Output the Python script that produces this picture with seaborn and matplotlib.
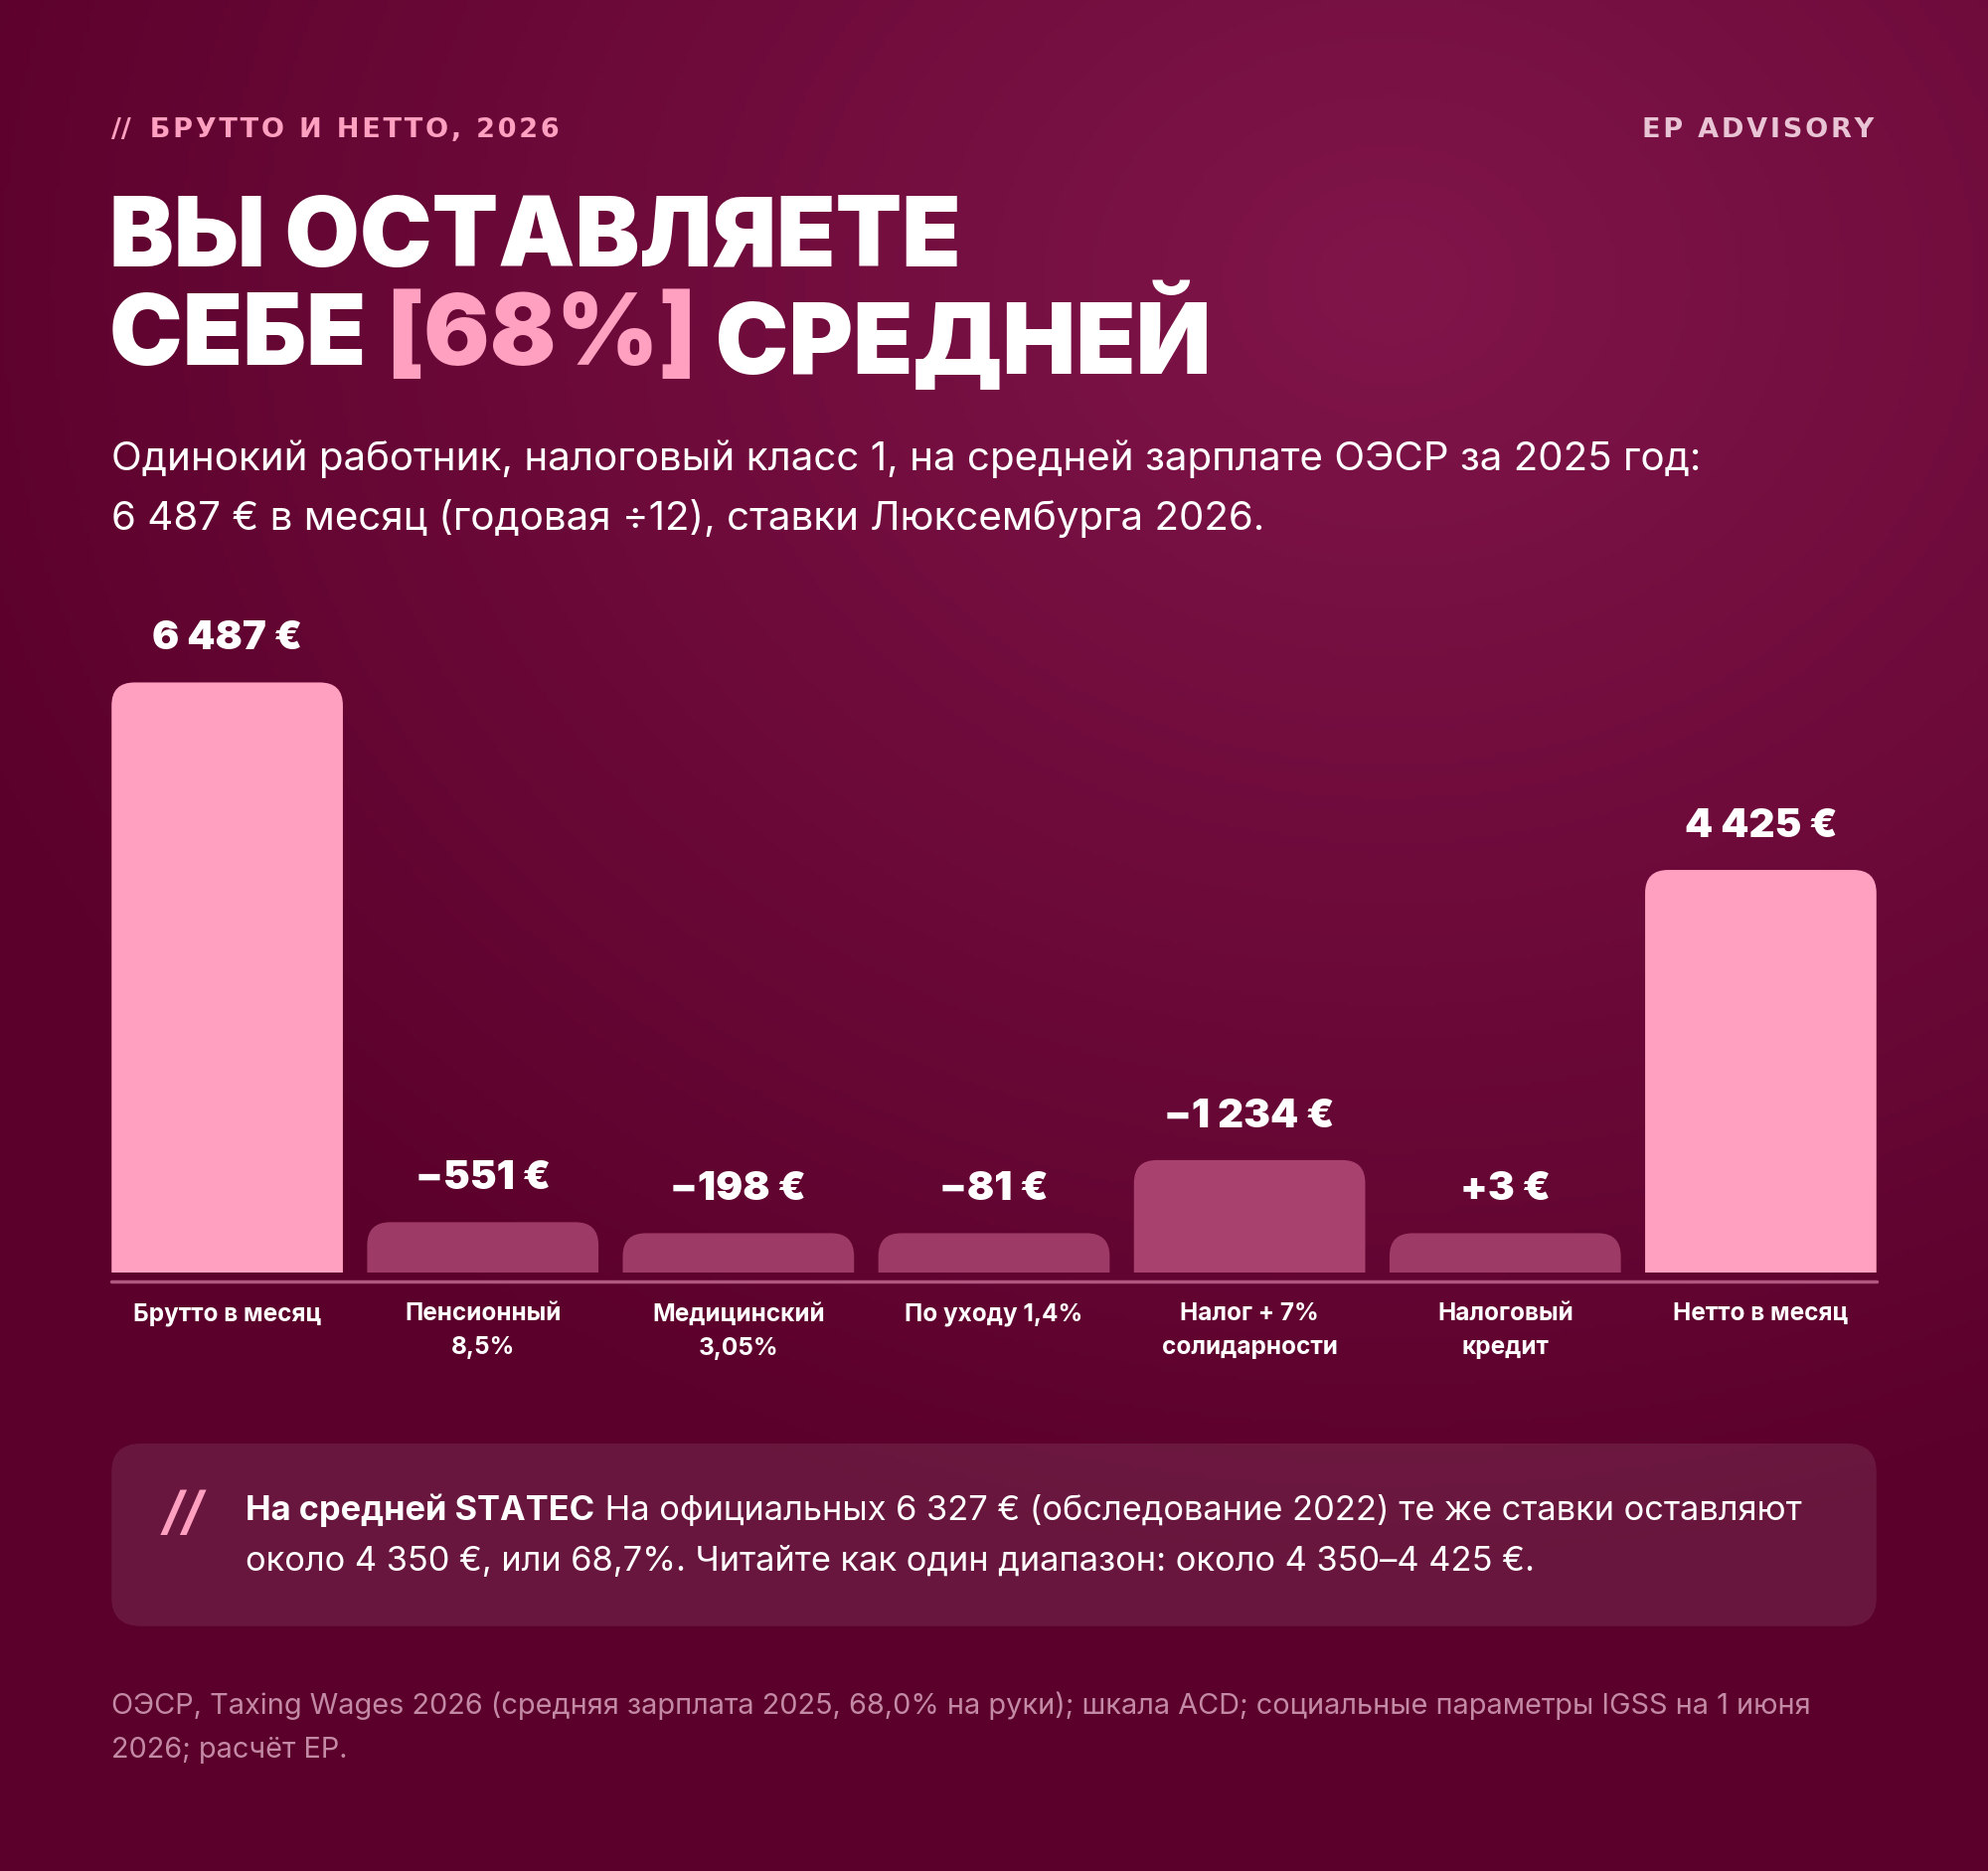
import numpy as np
import pandas as pd
import matplotlib
matplotlib.use("Agg")
import matplotlib.pyplot as plt
import seaborn as sns
from matplotlib.patches import FancyBboxPatch

categories = ["Брутто в месяц", "Пенсионный\n8,5%", "Медицинский\n3,05%", "По уходу 1,4%",
              "Налог + 7%\nсолидарности", "Налоговый\nкредит", "Нетто в месяц"]
values = [6487, -551, -198, -81, -1234, 3, 4425]
labels = ["6 487 €", "−551 €", "−198 €", "−81 €", "−1 234 €", "+3 €", "4 425 €"]
kinds = ["total", "step", "step", "step", "step", "step", "total"]

sns.set_theme(style="white")
plt.rcParams['font.family'] = ['Inter', 'DejaVu Sans']

W, H = 1568, 1475
fig = plt.figure(figsize=(20, 18.82), dpi=100)
def X(x): return x / W
def Y(y): return 1 - y / H
def spaced(s): return "\u200a".join(s)

# background gradient
bg = fig.add_axes([0, 0, 1, 1])
yy, xx = np.mgrid[0:1:400j, 0:1:400j]
d = np.sqrt(((xx - 0.7) / 0.8) ** 2 + ((yy - 0.15) / 0.7) ** 2)
t = np.clip(1 - d, 0, 1)
c0 = np.array([0x5a, 0x00, 0x2a]) / 255
c1 = np.array([0x80, 0x15, 0x4a]) / 255
img = c0[None, None, :] + (c1 - c0)[None, None, :] * t[..., None]
bg.imshow(img, extent=[0, 1, 0, 1], aspect='auto', origin='upper')
bg.axis('off')

# chart
ax_l, ax_r, base, top_px = 88, 1480, 1003, 470
gross_top = 538
ymax = 6487 * (base - top_px) / (base - gross_top)
bw = 0.905
ax = fig.add_axes([X(ax_l), Y(base), X(ax_r) - X(ax_l), (base - top_px) / H])
ax.set_facecolor('none')
minh = 430
disp = [max(abs(v), minh) for v in values]
df = pd.DataFrame({"cat": categories, "h": disp})
sns.barplot(data=df, x="cat", y="h", ax=ax, width=bw, color="#ffa0c0")
ax.set_ylim(0, ymax)
ax.set_xlim(-bw / 2, 6 + bw / 2)
axw_px = (ax_r - ax_l) * 2000 / W
axh_px = (base - top_px) * 2000 / W
aspect = (ymax / axh_px) / ((6 + bw) / axw_px)
for i, p in enumerate(list(ax.patches)):
    x0, w, h = p.get_x(), p.get_width(), p.get_height()
    col = "#ffa0c0" if kinds[i] == "total" else ("#a8416d" if values[i] == -1234 else "#9d3b66")
    r = 0.09
    fb = FancyBboxPatch((x0, -r * aspect * 2), w, h + r * aspect * 2,
                        boxstyle=f"round,pad=0,rounding_size={r}", mutation_aspect=aspect,
                        fc=col, ec='none', clip_on=True)
    ax.add_patch(fb)
    p.set_visible(False)
    ax.annotate(labels[i], (x0 + w / 2, h), xytext=(0, 18), textcoords='offset points',
                ha='center', va='bottom', color='white', fontsize=29, fontweight='black')
sns.despine(ax=ax, left=True, bottom=True)
ax.set_yticks([])
ax.set_xlabel(""); ax.set_ylabel("")
ax.set_xticks(range(7))
ax.set_xticklabels(categories, color='white', fontsize=17.5, fontweight='bold', linespacing=1.6)
ax.tick_params(axis='x', length=0, pad=22)
fig.add_artist(plt.Line2D([X(ax_l), X(ax_r)], [Y(1010), Y(1010)], color='#b0577f', lw=2.5))

# header
fig.text(X(88), Y(103), "//  " + spaced("БРУТТО И НЕТТО, 2026"), color='#ffa0c0', fontsize=19.5,
         fontweight='bold', va='center', ha='left', family='DejaVu Sans')
fig.text(X(1478), Y(103), spaced("EP ADVISORY"), color='#e8c4d4', fontsize=19.5, fontweight='bold',
         va='center', ha='right', family='DejaVu Sans')
fig.text(X(86), Y(190), "ВЫ ОСТАВЛЯЕТЕ", color='white', fontsize=70, fontweight='black', va='center')
r = fig.canvas.get_renderer()
x = X(86)
for s, c in [("СЕБЕ ", 'white'), ("[68%]", '#ffa0c0'), (" СРЕДНЕЙ", 'white')]:
    tt = fig.text(x, Y(267), s, color=c, fontsize=71, fontweight='black', va='center')
    bb = tt.get_window_extent(renderer=r)
    x += bb.width / fig.bbox.width
fig.text(X(88), Y(362), "Одинокий работник, налоговый класс 1, на средней зарплате ОЭСР за 2025 год:",
         color='white', fontsize=29, va='center')
fig.text(X(88), Y(409), "6 487 € в месяц (годовая ÷12), ставки Люксембурга 2026.",
         color='white', fontsize=29, va='center')

# callout
box = FancyBboxPatch((X(88), Y(1282)), X(1480) - X(88), (1282 - 1138) / H,
                     boxstyle="round,pad=0,rounding_size=0.015", transform=fig.transFigure,
                     fc='#ffffff', alpha=0.09, ec='none')
fig.add_artist(box)
fig.text(X(128), Y(1195), "//", color='#ffa0c0', fontsize=38, fontweight='bold', style='italic', va='center')
t1 = fig.text(X(194), Y(1191), "На средней STATEC", color='white', fontsize=24.8, fontweight='bold', va='center')
bb = t1.get_window_extent(renderer=r)
fig.text(X(194) + bb.width / fig.bbox.width, Y(1191),
         " На официальных 6 327 € (обследование 2022) те же ставки оставляют",
         color='white', fontsize=24.8, va='center')
fig.text(X(194), Y(1231), "около 4 350 €, или 68,7%. Читайте как один диапазон: около 4 350–4 425 €.",
         color='white', fontsize=24.8, va='center')

fig.text(X(88), Y(1345), "ОЭСР, Taxing Wages 2026 (средняя зарплата 2025, 68,0% на руки); шкала ACD; социальные параметры IGSS на 1 июня",
         color='#c48aa5', fontsize=20.8, va='center')
fig.text(X(88), Y(1380), "2026; расчёт EP.", color='#c48aa5', fontsize=20.8, va='center')

fig.savefig("out.png", dpi=100)
